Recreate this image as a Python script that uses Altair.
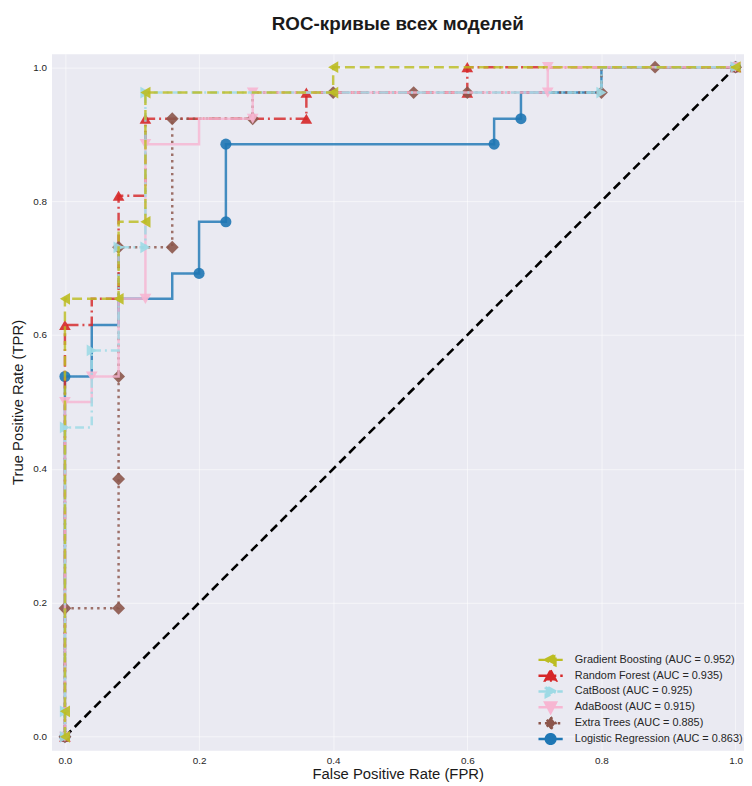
import altair as alt
import pandas as pd

# ---------------- data ----------------
models = ["Gradient Boosting", "Random Forest", "CatBoost", "AdaBoost",
          "Extra Trees", "Logistic Regression"]
auc = [0.952, 0.935, 0.925, 0.915, 0.885, 0.863]
labels = [f"{m} (AUC = {a:.3f})" for m, a in zip(models, auc)]
colors = ["#bcbd22", "#d62728", "#9edae5", "#f7b6d2", "#8c564b", "#1f77b4"]
dashes = [[10, 5], [12, 4, 2, 4], [9, 4, 2, 4], [1, 0], [2.5, 4], [1, 0]]
marker_shapes = ["triangle-left", "triangle-up", "triangle-right",
                 "triangle-down", "diamond", "circle"]
# drawing order, bottom to top (indices into models)
draw_order = [5, 1, 4, 3, 2, 0]

# curve vertices (fpr, tpr)
gb_fpr = [0, 0, 0, 0.08, 0.08, 0.12, 0.12, 0.40, 0.40, 1.0]
gb_tpr = [0, 0.038, 0.654, 0.654, 0.769, 0.769, 0.962, 0.962, 1.0, 1.0]
gb_mk_fpr = [0, 0, 0, 0.08, 0.12, 0.12, 0.40, 0.40, 1.0]
gb_mk_tpr = [0, 0.038, 0.654, 0.654, 0.769, 0.962, 0.962, 1.0, 1.0]

rf_fpr = [0, 0, 0.04, 0.04, 0.08, 0.08, 0.12, 0.12, 0.36, 0.36, 0.60, 0.60, 1.0]
rf_tpr = [0, 0.615, 0.615, 0.654, 0.654, 0.808, 0.808, 0.923, 0.923, 0.962, 0.962, 1.0, 1.0]
rf_mk_fpr = [0, 0, 0.08, 0.12, 0.36, 0.36, 0.60, 0.60, 1.0]
rf_mk_tpr = [0, 0.615, 0.808, 0.923, 0.923, 0.962, 0.962, 1.0, 1.0]

cb_fpr = [0, 0, 0.04, 0.04, 0.08, 0.08, 0.12, 0.12, 0.80, 0.80, 1.0]
cb_tpr = [0, 0.462, 0.462, 0.577, 0.577, 0.731, 0.731, 0.962, 0.962, 1.0, 1.0]
cb_mk_fpr = [0, 0, 0, 0.04, 0.08, 0.12, 0.12, 0.80, 1.0]
cb_mk_tpr = [0, 0.038, 0.462, 0.577, 0.731, 0.731, 0.962, 0.962, 1.0]

ab_fpr = [0, 0, 0.04, 0.04, 0.08, 0.08, 0.12, 0.12, 0.20, 0.20, 0.28, 0.28, 0.72, 0.72, 1.0]
ab_tpr = [0, 0.5, 0.5, 0.538, 0.538, 0.654, 0.654, 0.885, 0.885, 0.923, 0.923, 0.962, 0.962, 1.0, 1.0]
ab_mk_fpr = [0, 0, 0.04, 0.12, 0.12, 0.28, 0.28, 0.72, 0.72, 1.0]
ab_mk_tpr = [0, 0.5, 0.538, 0.654, 0.885, 0.923, 0.962, 0.962, 1.0, 1.0]

et_fpr = [0, 0, 0.08, 0.08, 0.16, 0.16, 0.28, 0.28, 0.80, 0.80, 1.0]
et_tpr = [0, 0.192, 0.192, 0.731, 0.731, 0.923, 0.923, 0.962, 0.962, 1.0, 1.0]
et_mk_fpr = [0, 0, 0.08, 0.08, 0.08, 0.08, 0.16, 0.16, 0.28, 0.40, 0.52, 0.60, 0.80, 0.88, 1.0]
et_mk_tpr = [0, 0.192, 0.192, 0.385, 0.538, 0.731, 0.731, 0.923, 0.923, 0.962, 0.962, 0.962, 0.962, 1.0, 1.0]

lr_fpr = [0, 0, 0.04, 0.04, 0.08, 0.08, 0.16, 0.16, 0.20, 0.20, 0.24, 0.24, 0.64, 0.64, 0.68, 0.68, 0.80, 0.80, 1.0]
lr_tpr = [0, 0.538, 0.538, 0.615, 0.615, 0.654, 0.654, 0.692, 0.692, 0.769, 0.769, 0.885, 0.885, 0.923, 0.923, 0.962, 0.962, 1.0, 1.0]
lr_mk_fpr = [0, 0, 0.20, 0.24, 0.24, 0.64, 0.68, 1.0]
lr_mk_tpr = [0, 0.538, 0.692, 0.769, 0.885, 0.885, 0.923, 1.0]

diag_fpr = [0, 1]
diag_tpr = [0, 1]

ticks = [0.0, 0.2, 0.4, 0.6, 0.8, 1.0]

# legend glyphs: line segment + marker (unit square coords)
legend_paths = [
    "M-1,0L1,0M-0.45,0L0.4,-0.45L0.4,0.45Z",
    "M-1,0L1,0M0,-0.45L0.45,0.4L-0.45,0.4Z",
    "M-1,0L1,0M0.45,0L-0.4,-0.45L-0.4,0.45Z",
    "M-1,0L1,0M0,0.45L0.45,-0.4L-0.45,-0.4Z",
    "M-1,0L1,0M0,-0.5L0.42,0L0,0.5L-0.42,0Z",
    "M-1,0L1,0M-0.4,0A0.4,0.4 0 1,0 0.4,0A0.4,0.4 0 1,0 -0.4,0Z",
]

series = [
    (gb_fpr, gb_tpr, gb_mk_fpr, gb_mk_tpr),
    (rf_fpr, rf_tpr, rf_mk_fpr, rf_mk_tpr),
    (cb_fpr, cb_tpr, cb_mk_fpr, cb_mk_tpr),
    (ab_fpr, ab_tpr, ab_mk_fpr, ab_mk_tpr),
    (et_fpr, et_tpr, et_mk_fpr, et_mk_tpr),
    (lr_fpr, lr_tpr, lr_mk_fpr, lr_mk_tpr),
]

FONT = "Liberation Sans"

X = alt.X("fpr:Q",
          scale=alt.Scale(domain=[-0.02, 1.0126], nice=False, zero=False),
          axis=alt.Axis(values=ticks, format=".1f", title="False Positive Rate (FPR)"))
Y = alt.Y("tpr:Q",
          scale=alt.Scale(domain=[-0.02, 1.02], nice=False, zero=False),
          axis=alt.Axis(values=ticks, format=".1f", title="True Positive Rate (TPR)"))

layers = []
diag = alt.Chart(pd.DataFrame({"fpr": diag_fpr, "tpr": diag_tpr})).mark_line(
    color="black", strokeDash=[9, 5], strokeWidth=2.6).encode(x=X, y=Y)
layers.append(diag)

for i in draw_order:
    fx, ty, mx, my = series[i]
    ldf = pd.DataFrame({"fpr": fx, "tpr": ty, "order": list(range(len(fx)))})
    mdf = pd.DataFrame({"fpr": mx, "tpr": my})
    line = alt.Chart(ldf).mark_line(
        color=colors[i], strokeDash=dashes[i], strokeWidth=2.5, opacity=0.82
    ).encode(x=X, y=Y, order="order:Q")
    size = 170 if marker_shapes[i] == "diamond" else (125 if marker_shapes[i] == "circle" else 140)
    pts = alt.Chart(mdf).mark_point(
        shape=marker_shapes[i], filled=True, size=size, color=colors[i], opacity=0.9
    ).encode(x=X, y=Y)
    layers += [line, pts]

leg = alt.Legend(
    title=None, orient="none", legendX=491, legendY=605,
    symbolSize=600, symbolStrokeWidth=2.5, symbolOpacity=1,
    labelFont=FONT, labelFontSize=11, labelColor="#262626",
    labelOffset=11, labelLimit=300, clipHeight=15.4, rowPadding=0, padding=0,
)
leg_df = pd.DataFrame({"model": labels, "fpr": [0.0] * 6, "tpr": [0.0] * 6})
legend_layer = alt.Chart(leg_df).mark_point(opacity=0, filled=True).encode(
    x=X, y=Y,
    fill=alt.Fill("model:N", scale=alt.Scale(domain=labels, range=colors), legend=leg),
    stroke=alt.Stroke("model:N", scale=alt.Scale(domain=labels, range=colors), legend=leg),
    shape=alt.Shape("model:N", scale=alt.Scale(domain=labels, range=legend_paths), legend=leg),
    strokeDash=alt.StrokeDash("model:N", scale=alt.Scale(domain=labels, range=dashes), legend=leg),
)
layers.append(legend_layer)

chart = alt.layer(*layers).properties(
    width=700, height=704,
    padding={"left": 44, "top": 42, "right": 0, "bottom": 36},
    autosize=alt.AutoSizeParams(type="none"),
    background="white",
    title=alt.TitleParams("ROC-кривые всех моделей", font=FONT, fontSize=19,
                          fontWeight="bold", color="#1a1a1a", offset=20, anchor="middle"),
).configure_view(fill="#eaeaf2", stroke="transparent").configure_axis(
    grid=True, gridColor="white", gridWidth=1, gridOpacity=0.55,
    domain=False, ticks=False,
    labelFont=FONT, labelFontSize=10, labelColor="#262626", labelPadding=5,
    titleFont=FONT, titleFontSize=15, titleFontWeight="normal", titleColor="#1a1a1a",
).configure_axisX(labelPadding=5, titlePadding=2).configure_axisY(titlePadding=7)

chart.save("out.html", embed_options={"renderer": "svg", "actions": False})
